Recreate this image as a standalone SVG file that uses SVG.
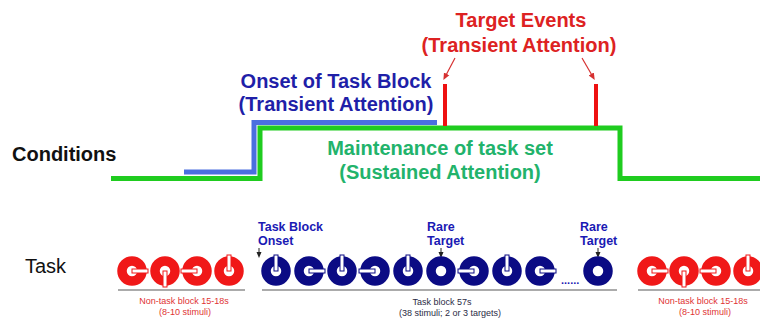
<svg xmlns="http://www.w3.org/2000/svg" xmlns:xlink="http://www.w3.org/1999/xlink" width="760" height="327" viewBox="0 0 760 327">
  <style>
    text { font-family: "Liberation Sans", Arial, sans-serif; }
    .big { font-size: 20px; font-weight: bold; }
    .red-t { fill: #dd2222; }
    .blue-t { fill: #1f1fa8; }
    .green-t { fill: #22b36b; }
    .lab { font-size: 12.5px; font-weight: bold; fill: #1a1ab4; }
    .cap { font-size: 9px; }
    .red-c { stroke: #f01818; }
    .blue-c { stroke: #0b0b84; }
    .base { stroke: #8f8f8f; stroke-width: 1.5; fill: none; }
    .ptr { stroke: #222; stroke-width: 1; fill: none; }
    .rptr { stroke: #d63030; stroke-width: 1.2; fill: none; }
  </style>
  <defs>
    <marker id="tipK" markerWidth="6" markerHeight="6" refX="3" refY="3" orient="auto" markerUnits="userSpaceOnUse">
      <path d="M0,0.5 L6,3 L0,5.5 Z" fill="#222"/>
    </marker>
    <marker id="tipR" markerWidth="7" markerHeight="7" refX="3.5" refY="3.5" orient="auto" markerUnits="userSpaceOnUse">
      <path d="M0,0.5 L7,3.5 L0,6.5 Z" fill="#d63030"/>
    </marker>
    <!-- full ring -->
    <g id="ring"><circle r="10" fill="none" stroke-width="9.5"/></g>
    <!-- ring with a slit opening to the right -->
    <g id="cring"><circle r="10" fill="none" stroke-width="9.5"/><rect x="0" y="-2" width="16" height="4" fill="#fff"/></g>
  </defs>

  <rect width="760" height="327" fill="#fff"/>

  <!-- row labels -->
  <g id="label-conditions"><text class="big" x="12" y="161" fill="#111">Conditions</text></g>
  <g id="label-task"><text x="25" y="273" font-size="20" fill="#111">Task</text></g>

  <!-- condition time courses -->
  <g id="connectors">
    <path id="sustained-line" d="M111 178.5 H260 V128 H620 V178.5 H760" fill="none" stroke="#1fcc1f" stroke-width="5"/>
    <path id="onset-line" d="M184 172 H254 V122.5 H437" fill="none" stroke="#4a6fe0" stroke-width="5"/>
    <line x1="445" y1="84" x2="445" y2="126" stroke="#ee1111" stroke-width="4"/>
    <line x1="596" y1="84" x2="596" y2="126" stroke="#ee1111" stroke-width="4"/>
    <line class="rptr" x1="455" y1="58" x2="445" y2="77" marker-end="url(#tipR)"/>
    <line class="rptr" x1="582" y1="58" x2="593" y2="77" marker-end="url(#tipR)"/>
    <line class="ptr" x1="259" y1="248" x2="259" y2="255" marker-end="url(#tipK)"/>
    <line class="ptr" x1="441" y1="248" x2="441" y2="255" marker-end="url(#tipK)"/>
    <line class="ptr" x1="598" y1="248" x2="598" y2="255" marker-end="url(#tipK)"/>
  </g>

  <g id="target-events">
    <text class="big red-t" x="521" y="27" text-anchor="middle">Target Events</text>
    <text class="big red-t" x="519" y="52" text-anchor="middle">(Transient Attention)</text>
  </g>
  <g id="onset-of-task-block">
    <text class="big blue-t" x="336" y="88" text-anchor="middle">Onset of Task Block</text>
    <text class="big blue-t" x="336" y="111" text-anchor="middle">(Transient Attention)</text>
  </g>
  <g id="maintenance">
    <text class="big green-t" x="440" y="155" text-anchor="middle">Maintenance of task set</text>
    <text class="big green-t" x="440" y="179" text-anchor="middle">(Sustained Attention)</text>
  </g>

  <!-- stimulus labels -->
  <g id="task-block-onset">
    <text class="lab" x="258" y="231">Task Block</text>
    <text class="lab" x="258" y="245">Onset</text>
  </g>
  <g id="rare-target-1">
    <text class="lab" x="427" y="231">Rare</text>
    <text class="lab" x="427" y="245">Target</text>
  </g>
  <g id="rare-target-2">
    <text class="lab" x="580" y="231">Rare</text>
    <text class="lab" x="580" y="245">Target</text>
  </g>

  <!-- first non-task block -->
  <g id="nontask-block-1">
    <use xlink:href="#cring" class="red-c" transform="translate(132 271)"/>
    <use xlink:href="#cring" class="red-c" transform="translate(165 271) rotate(90)"/>
    <use xlink:href="#cring" class="red-c" transform="translate(197 271) rotate(180)"/>
    <use xlink:href="#cring" class="red-c" transform="translate(229 271) rotate(-90)"/>
    <line class="base" x1="118" y1="290" x2="245" y2="290"/>
    <text class="cap" x="184" y="304" text-anchor="middle" fill="#e03333">Non-task block 15-18s</text>
    <text class="cap" x="185" y="315" text-anchor="middle" fill="#e03333">(8-10 stimuli)</text>
  </g>

  <!-- task block -->
  <g id="task-block">
    <use xlink:href="#cring" class="blue-c" transform="translate(276 271) rotate(-90)"/>
    <use xlink:href="#cring" class="blue-c" transform="translate(309 271)"/>
    <use xlink:href="#cring" class="blue-c" transform="translate(342 271) rotate(-90)"/>
    <use xlink:href="#cring" class="blue-c" transform="translate(375 271) rotate(180)"/>
    <use xlink:href="#cring" class="blue-c" transform="translate(408 271) rotate(-90)"/>
    <use xlink:href="#ring" class="blue-c" transform="translate(441 271)"/>
    <use xlink:href="#cring" class="blue-c" transform="translate(474 271) rotate(180)"/>
    <use xlink:href="#cring" class="blue-c" transform="translate(507 271) rotate(-90)"/>
    <use xlink:href="#cring" class="blue-c" transform="translate(540 271)"/>
    <text x="561" y="284" font-size="11" font-weight="bold" fill="#1a1ab4">......</text>
    <use xlink:href="#ring" class="blue-c" transform="translate(598 271)"/>
    <line class="base" x1="262" y1="290" x2="617" y2="290"/>
    <text class="cap" x="442" y="305" text-anchor="middle" fill="#2b2b45">Task block 57s</text>
    <text class="cap" x="450" y="316" text-anchor="middle" fill="#2b2b45">(38 stimuli; 2 or 3 targets)</text>
  </g>

  <!-- second non-task block -->
  <g id="nontask-block-2">
    <use xlink:href="#cring" class="red-c" transform="translate(652 271)"/>
    <use xlink:href="#cring" class="red-c" transform="translate(684 271) rotate(90)"/>
    <use xlink:href="#cring" class="red-c" transform="translate(716 271) rotate(180)"/>
    <use xlink:href="#cring" class="red-c" transform="translate(748 271) rotate(-90)"/>
    <line class="base" x1="638" y1="290" x2="760" y2="290"/>
    <text class="cap" x="703" y="304" text-anchor="middle" fill="#e03333">Non-task block 15-18s</text>
    <text class="cap" x="705" y="315" text-anchor="middle" fill="#e03333">(8-10 stimuli)</text>
  </g>
</svg>
